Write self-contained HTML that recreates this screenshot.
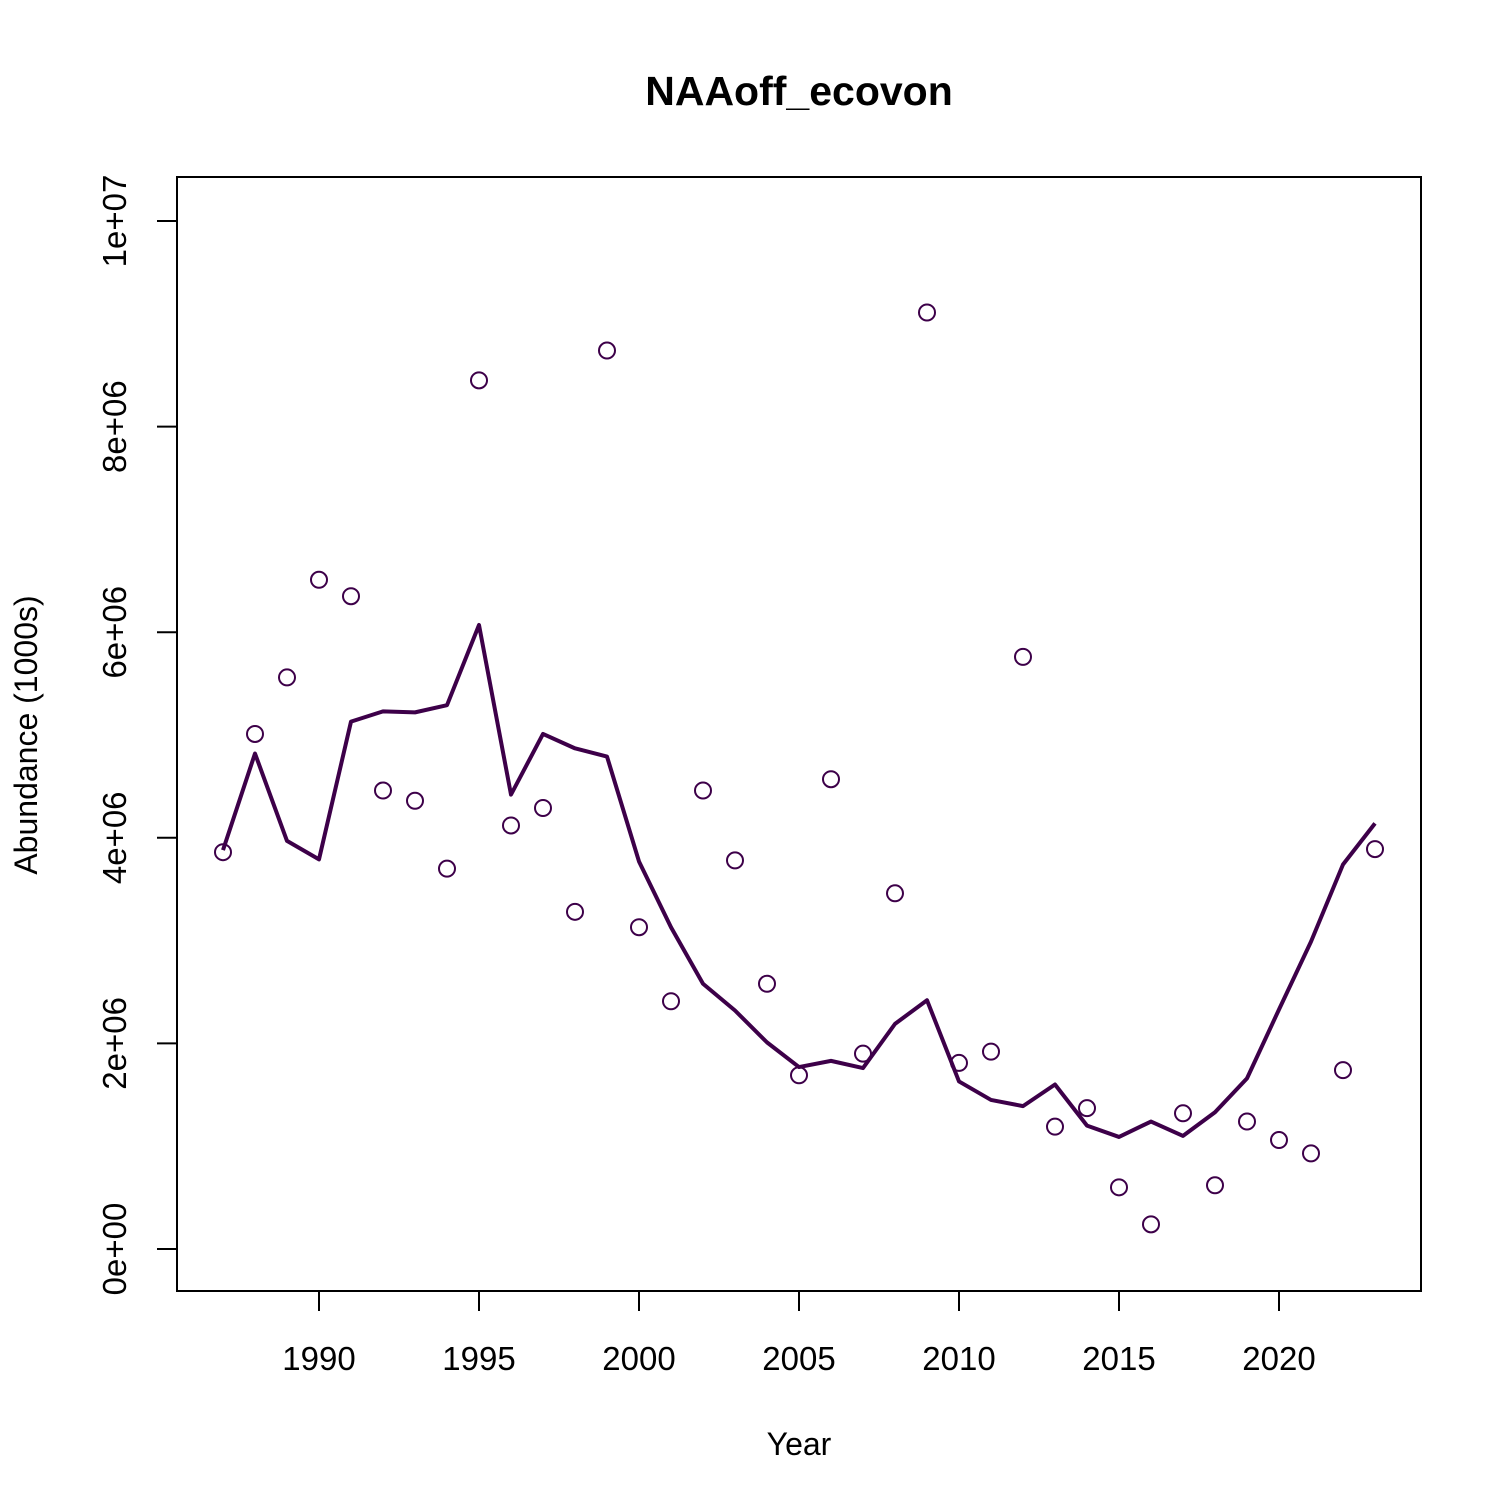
<!DOCTYPE html>
<html><head><meta charset="utf-8"><style>body{margin:0;background:#fff}svg{display:block}text{font-family:"Liberation Sans",Arial,sans-serif}</style></head>
<body>
<svg id="chart" width="1512" height="1512" viewBox="0 0 1512 1512" xmlns="http://www.w3.org/2000/svg">
<rect width="1512" height="1512" fill="#fff"/>
<text x="799" y="105" font-size="41" font-weight="bold" text-anchor="middle">NAAoff_ecovon</text>
<rect x="177" y="177" width="1244" height="1114" fill="none" stroke="#000" stroke-width="2"/>
<text x="799" y="1455" font-size="32" text-anchor="middle">Year</text>
<text transform="translate(37,735) rotate(-90)" font-size="32" text-anchor="middle">Abundance (1000s)</text>
<g id="axes"></g><g id="marks"></g>
</svg>
<script>
const years = [];
for (let y = 1987; y <= 2023; y++) years.push(y);
const observed = [3.86,5.01,5.56,6.51,6.35,4.46,4.36,3.70,8.45,4.12,4.29,3.28,8.74,3.13,2.41,4.46,3.78,2.58,1.69,4.57,1.90,3.46,9.11,1.81,1.92,5.76,1.19,1.37,0.60,0.24,1.32,0.62,1.24,1.06,0.93,1.74,3.89];
const estimated = [3.88,4.82,3.97,3.79,5.13,5.23,5.22,5.29,6.07,4.42,5.01,4.87,4.79,3.77,3.13,2.58,2.32,2.01,1.77,1.83,1.76,2.19,2.42,1.63,1.45,1.39,1.60,1.20,1.09,1.24,1.10,1.33,1.66,2.33,2.99,3.74,4.14];
const xTicks = [1990,1995,2000,2005,2010,2015,2020];
const yTicks = [0,2,4,6,8,10];
const yTickLabels = ["0e+00","2e+06","4e+06","6e+06","8e+06","1e+07"];
const NS = "http://www.w3.org/2000/svg";
const xs = v => 319 + (v - 1990) * 32;
const ys = v => 1249 - v * 102.8;
const axes = document.getElementById('axes'), marks = document.getElementById('marks');
function mk(tag, attrs, parent){const e=document.createElementNS(NS,tag);for(const k in attrs)e.setAttribute(k,attrs[k]);parent.appendChild(e);return e;}
let l = mk('line',{x1:xs(1990),x2:xs(2020),y1:1291,y2:1291,stroke:'#000','stroke-width':2},axes);


xTicks.forEach(t=>{
  const tk = mk('line',{x1:xs(t),x2:xs(t),y1:1291,y2:1311,stroke:'#000','stroke-width':2},axes);
  
  
  const tx = mk('text',{x:xs(t),y:1370,'font-size':33,'text-anchor':'middle'},axes);
  tx.textContent = t;
  
  
});
l = mk('line',{x1:177,x2:177,y1:ys(0),y2:ys(10),stroke:'#000','stroke-width':2},axes);


yTicks.forEach((t,i)=>{
  const tk = mk('line',{x1:157,x2:177,y1:ys(t),y2:ys(t),stroke:'#000','stroke-width':2},axes);
  
  
  const tx = mk('text',{transform:`translate(126,${ys(t)}) rotate(-90)`,'font-size':33,'text-anchor':'middle'},axes);
  tx.textContent = yTickLabels[i];
  
  
});
const pl = mk('polyline',{points:years.map((y,i)=>xs(y)+','+ys(estimated[i])).join(' '),fill:'none',stroke:'#3d0049','stroke-width':4,'stroke-linejoin':'round'},marks);


years.forEach((y,i)=>{
  const c = mk('circle',{cx:xs(y),cy:ys(observed[i]),r:8,fill:'none',stroke:'#3d0049','stroke-width':2},marks);
  
  
});
</script>
</body></html>
